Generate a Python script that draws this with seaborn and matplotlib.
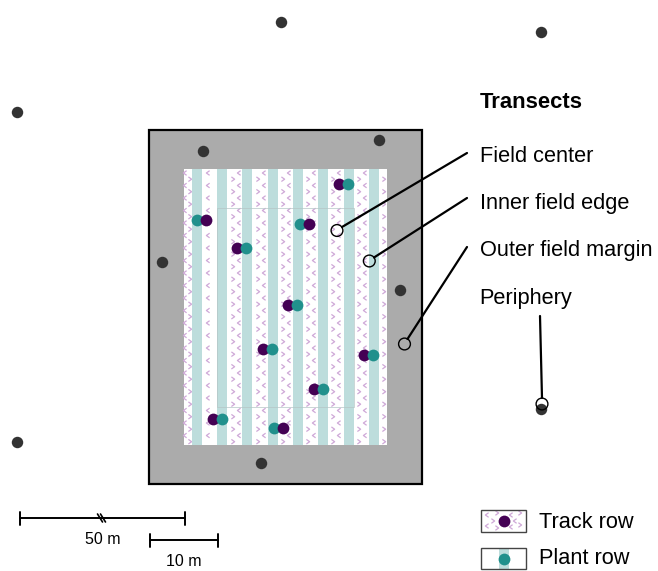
'''
    study site sketch: transects in a field with track rows and plant rows
'''
import numpy as np
import pandas as pd
import seaborn as sns
import matplotlib.pyplot as plt
from matplotlib.patches import Rectangle
from matplotlib.path import Path

sns.set_theme(style='white')
plt.rcParams['font.family'] = ['Liberation Sans', 'DejaVu Sans']
plt.rcParams['text.color'] = 'black'

# sampling points
periphery_x = [281, 541, 17, 203, 379, 162, 400, 17, 261, 541]
periphery_y = [22, 32, 112, 151, 140, 262, 290, 442, 463, 409]

track_x = [338.7, 206.3, 309, 236.7, 287.5, 262.7, 364, 313.7, 212.7, 283]
track_y = [183.7, 219.5, 224.3, 248, 305, 349.3, 354.7, 389.3, 419, 428.3]

plant_x = [347.7, 197, 300, 246, 296.7, 271.7, 373, 322.7, 221.7, 273.7]
plant_y = [184, 219.5, 224.3, 248, 305, 349.3, 354.7, 389.3, 419, 428.3]

open_x = [337, 369.3, 404.5, 542]
open_y = [230.5, 261, 344, 404]

# rows and labels
row_centers = [197, 222, 247.3, 272.7, 298.3, 323.3, 348.7, 374]
texture_columns = [185, 190, 208, 233, 239, 258, 264, 283, 289, 308, 314, 333, 339, 359, 365, 384]
transect_labels = ['Field center', 'Inner field edge', 'Outer field margin', 'Periphery']
label_y = [156.5, 203.5, 250.5, 298.5]
leader_start_x = [342, 374, 407.5, 542]
leader_start_y = [227, 257.5, 339, 398]
leader_end_x = [467, 467, 467, 540]
leader_end_y = [153, 198, 247, 316]

DARK = '#333333'
PURPLE = '#440154'
TEAL = '#21908c'
STRIP = '#bddddc'
GRAY = '#ababab'
CHEVRON = '#cfa9d8'

LEFT = Path([(0.7, -1), (-0.7, 0), (0.7, 1)])
RIGHT = Path([(-0.7, -1), (0.7, 0), (-0.7, 1)])

fig = plt.figure(figsize=(6.58, 5.71), dpi=100)
ax = fig.add_axes([0, 0, 1, 1])
ax.set_xlim(0, 658)
ax.set_ylim(571, 0)
ax.axis('off')


def draw_chevron(x, y, marker):
    ax.scatter(x, y, marker=marker, s=11, facecolor='none', edgecolor=CHEVRON,
               linewidths=0.9, zorder=3)


ax.add_patch(Rectangle((149, 130), 273, 354, fc=GRAY, ec='black', lw=1.6, zorder=1))
ax.add_patch(Rectangle((184, 169), 203, 276, fc='white', ec='none', zorder=2))

# small < > texture of the track rows
rows = np.arange(173, 445, 12.5)
for i, x in enumerate(texture_columns):
    marker = LEFT if i % 2 == 0 else RIGHT
    offset = 0 if i % 2 == 0 else 6.2
    draw_chevron(np.full(len(rows), x), rows + offset, marker)

for c in row_centers:
    ax.add_patch(Rectangle((c - 5, 169), 10, 276, fc=STRIP, ec='none', zorder=4))
ax.add_patch(Rectangle((217, 207.5), 136.5, 199.5, fc='none', ec='#b5c6c6', lw=0.5, zorder=5))

# leader lines
for x, y, ex, ey in zip(leader_start_x, leader_start_y, leader_end_x, leader_end_y):
    ax.plot([x, ex], [y, ey], color='black', lw=1.6, zorder=6)

pts = pd.DataFrame({'x': periphery_x, 'y': periphery_y})
sns.scatterplot(data=pts, x='x', y='y', color=DARK, s=68, linewidth=0, ax=ax, zorder=7)
for i in range(len(track_x)):
    # whichever dot is on the right lies on top in the reference
    t_z, p_z = (9, 8) if track_x[i] > plant_x[i] else (8, 9)
    ax.scatter(track_x[i], track_y[i], color=PURPLE, s=72, linewidths=0, zorder=t_z)
    ax.scatter(plant_x[i], plant_y[i], color=TEAL, s=72, linewidths=0, zorder=p_z)
ax.scatter(open_x, open_y, facecolor='none', edgecolor='black', s=72, linewidths=1.0, zorder=10)
ax.set_xlabel('')
ax.set_ylabel('')

# labels
ax.text(480, 103, 'Transects', fontsize=15.8, fontweight='bold', va='center')
for lab, y in zip(transect_labels, label_y):
    ax.text(479.5, y, lab, fontsize=15.7, va='center')

# scale bars
ax.plot([20, 185], [518, 518], color='black', lw=1.4)
ax.plot([150, 218], [540, 540], color='black', lw=1.4)
for x, y in [(20, 518), (185, 518), (150, 540), (218, 540)]:
    ax.plot([x, x], [y - 6.5, y + 6.5], color='black', lw=1.4)
for dx in [-1.5, 1.5]:
    ax.plot([99 + dx, 104 + dx], [514, 522], color='black', lw=1.2, zorder=3)
ax.text(102.5, 539, '50 m', fontsize=11.5, ha='center', va='center')
ax.text(184, 562, '10 m', fontsize=11.5, ha='center', va='center')

# legend, drawn by hand
for x, y, m in [(487, 515, LEFT), (497, 513, RIGHT), (511, 515, LEFT), (520, 513, RIGHT),
                (487, 526, LEFT), (497, 528, RIGHT), (511, 527, LEFT), (520, 525, RIGHT),
                (493, 521, RIGHT), (515, 521, LEFT)]:
    draw_chevron(x, y, m)
ax.add_patch(Rectangle((481, 510), 45, 22, fc='none', ec='#444444', lw=1, zorder=4))
ax.scatter(503.5, 521, color=PURPLE, s=72, linewidths=0, zorder=5)
ax.add_patch(Rectangle((498.5, 548), 10, 21, fc=STRIP, ec='none', zorder=3))
ax.add_patch(Rectangle((481, 548), 45, 21, fc='none', ec='#444444', lw=1, zorder=4))
ax.scatter(503.5, 558.5, color=TEAL, s=72, linewidths=0, zorder=5)
ax.text(539, 522.5, 'Track row', fontsize=15.7, va='center')
ax.text(539, 559, 'Plant row', fontsize=15.7, va='center')

fig.savefig('out.png', dpi=100, facecolor='white')
